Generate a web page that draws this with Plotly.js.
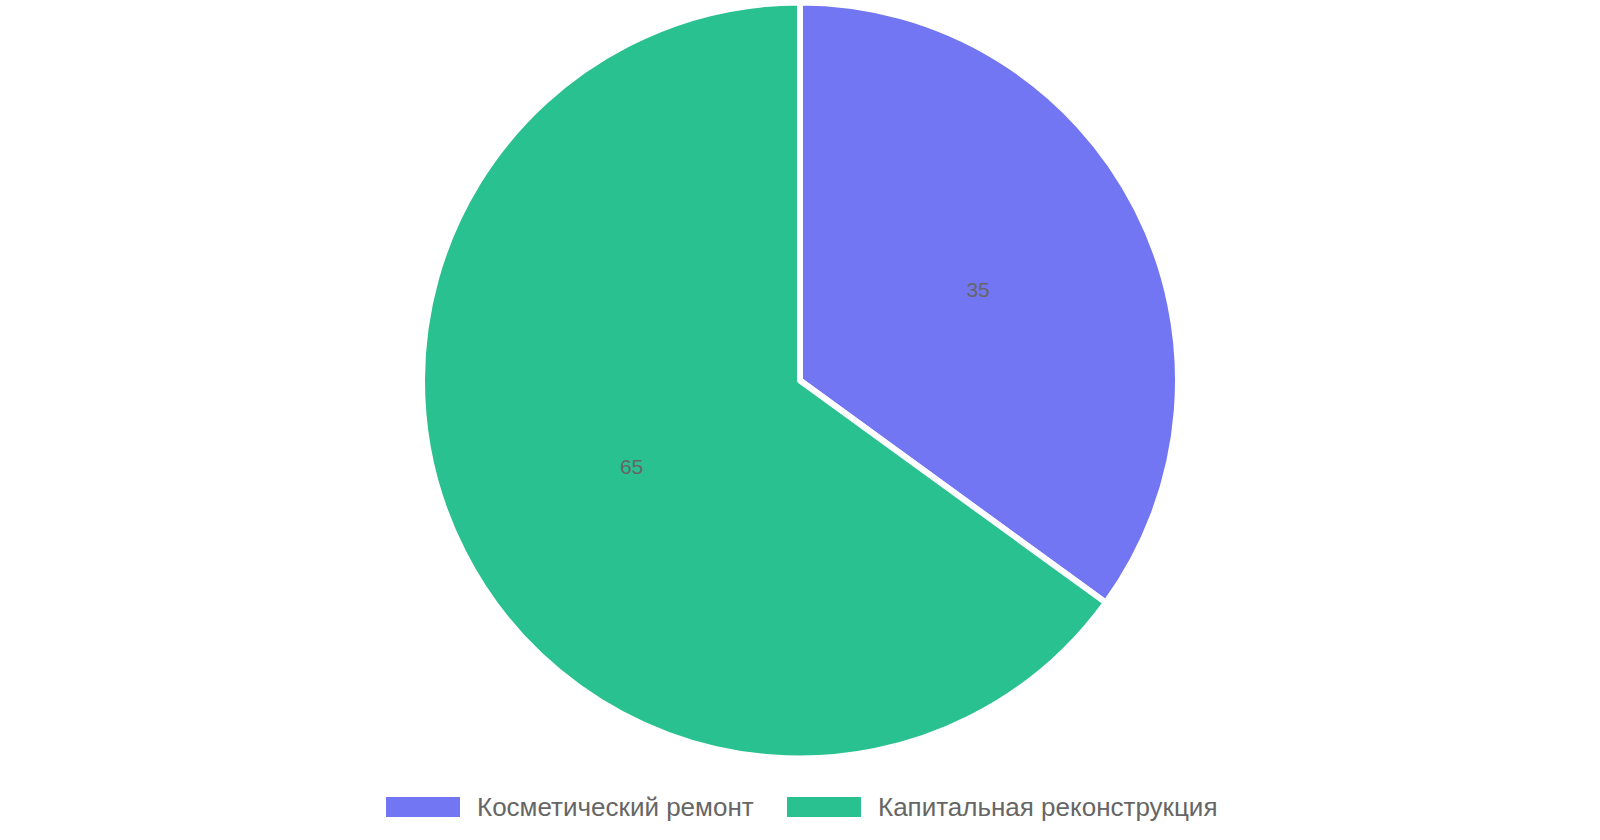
<!DOCTYPE html>
<html>
<head>
<meta charset="utf-8">
<script src="https://cdn.plot.ly/plotly-3.0.1.min.js"></script>
<style>
  html, body { margin: 0; padding: 0; background: #fff; }
  #chart { width: 1600px; height: 840px; }
</style>
</head>
<body>
<div id="chart"></div>
<script>
const labels = ['Косметический ремонт', 'Капитальная реконструкция']
const values = [35, 65]
const colors = ['#7376F2', '#29C18F']

const W = 1600, H = 840
const font = "'Liberation Sans', Arial, sans-serif"

// pie geometry in pixels
const cx = 800, cy = 380.5, r = 378
const px = x => x / W
const py = y => 1 - y / H

const trace = {
    type: 'pie',
    labels: labels,
    values: values,
    sort: false,
    direction: 'clockwise',
    rotation: 0,
    marker: { colors: colors, line: { color: '#ffffff', width: 6 } },
    textinfo: 'value',
    textposition: 'inside',
    insidetextorientation: 'horizontal',
    textfont: { family: font, size: 21, color: '#666666' },
    hoverinfo: 'label+value',
    domain: { x: [px(cx - r), px(cx + r)], y: [py(cy + r), py(cy - r)] },
    showlegend: false
}

// legend drawn by hand so the swatches can be wide boxes
const swatchX = [386, 787]   // left edge of each swatch
const textX = [474.5, 875.5]
const legendY = 807
let shapes = [], annotations = []
labels.forEach((lab, i) => {
    shapes.push({
        type: 'rect', xref: 'paper', yref: 'paper',
        x0: px(swatchX[i]), x1: px(swatchX[i] + 74),
        y0: py(legendY + 10), y1: py(legendY - 10),
        fillcolor: colors[i], line: { width: 0 }
    })
    annotations.push({
        xref: 'paper', yref: 'paper',
        x: px(textX[i]), y: py(legendY),
        xanchor: 'left', yanchor: 'middle',
        text: lab, showarrow: false,
        font: { family: font, size: 26, color: '#666666' }
    })
})

const layout = {
    width: W, height: H,
    margin: { l: 0, r: 0, t: 0, b: 0 },
    paper_bgcolor: '#ffffff',
    showlegend: false,
    shapes: shapes,
    annotations: annotations
}

Plotly.newPlot('chart', [trace], layout, { displayModeBar: false, staticPlot: true })
</script>
</body>
</html>
